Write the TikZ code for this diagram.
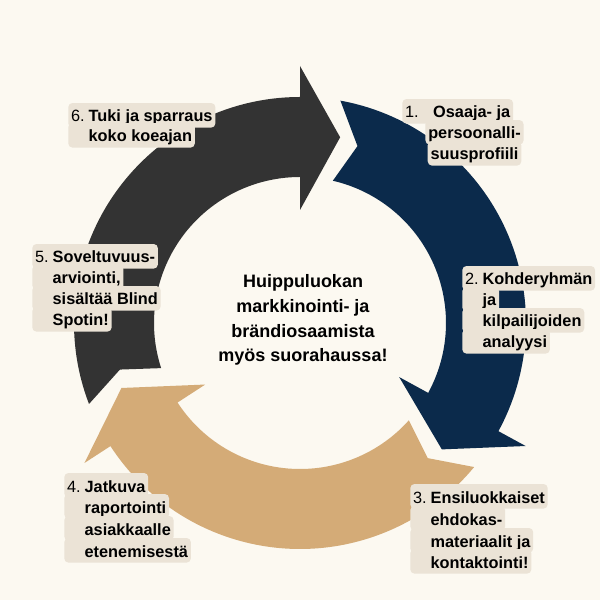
\documentclass[tikz,border=0pt]{standalone}
\usepackage{fontspec}
\setmainfont{Liberation Sans}
\setsansfont{Liberation Sans}
\definecolor{cream}{HTML}{FCF9F1}
\definecolor{navy}{HTML}{0B2A4B}
\definecolor{charcoal}{HTML}{333333}
\definecolor{sand}{HTML}{D4AB77}
\definecolor{boxbeige}{HTML}{EBE3D6}
\newcommand{\stepnum}[1]{\makebox[12.5pt][l]{\mdseries #1}}
\newcommand{\stepgap}{\hspace*{12.5pt}}

\begin{document}
\begin{tikzpicture}[scale=0.025,
  linebox/.style={fill=boxbeige, rounded corners=3pt, inner xsep=2pt, inner ysep=3pt,
    text height=10.5pt, text depth=1pt, anchor=base west,
    font=\fontsize{11.6}{14}\selectfont\bfseries}]

% Background
\fill[cream] (-300,-277) rectangle (300,323);

% Charcoal arrow (left, into the top)
\fill[charcoal] (201:226) arc[start angle=201, end angle=90, radius=226]
  -- (90:257) -- (77.8:190) -- (90:113) -- (90:146)
  arc[start angle=90, end angle=198, radius=146] -- (194.5:186) -- cycle;

% Navy arrow (right side)
\fill[navy] (79.7:226) arc[start angle=79.7, end angle=-28.6, radius=226]
  -- (-28.6:257) -- (-41.7:190) -- (-28.6:113) -- (-28.6:146)
  arc[start angle=-28.6, end angle=77, radius=146] -- (72:186) -- cycle;

% Sand arrow (bottom)
\fill[sand] (-39.6:226) arc[start angle=-39.6, end angle=-147, radius=226]
  -- (-147:257) -- (-160:190) -- (-147:113) -- (-147:146)
  arc[start angle=-147, end angle=-41.8, radius=146] -- (-46.6:186) -- cycle;

% Centre text
\node[align=center, font=\fontsize{12.8}{17.7}\selectfont\bfseries] (centre) at (3,3)
  {Huippuluokan\\markkinointi- ja\\brändiosaamista\\myös suorahaussa!};

% 1. profile
\node[linebox] (osaA) at (102,205) {\makebox[20pt][l]{\mdseries 1.}Osaaja- ja};
\node[linebox, anchor=base] (osaB) at (174.5,184) {persoonalli-};
\node[linebox, anchor=base] (osaC) at (174.5,163) {suusprofiili};

% 2. target group
\node[linebox] (kohA) at (162,38) {\stepnum{2.}Kohderyhmän};
\node[linebox] (kohB) at (162,17) {\stepgap ja};
\node[linebox] (kohC) at (162,-4) {\stepgap kilpailijoiden};
\node[linebox] (kohD) at (162,-25) {\stepgap analyysi};

% 3. candidates
\node[linebox] (ensA) at (110,-180) {\stepnum{3.}Ensiluokkaiset};
\node[linebox] (ensB) at (110,-202) {\stepgap ehdokas-};
\node[linebox] (ensC) at (110,-224) {\stepgap materiaalit ja};
\node[linebox] (ensD) at (110,-245) {\stepgap kontaktointi!};

% 4. reporting
\node[linebox] (jatA) at (-236,-169) {\stepnum{4.}Jatkuva};
\node[linebox] (jatB) at (-236,-190) {\stepgap raportointi};
\node[linebox] (jatC) at (-236,-212) {\stepgap asiakkaalle};
\node[linebox] (jatD) at (-236,-234) {\stepgap etenemisestä};

% 5. assessment
\node[linebox] (sovA) at (-268,60) {\stepnum{5.}Soveltuvuus-};
\node[linebox] (sovB) at (-268,39) {\stepgap arviointi,};
\node[linebox] (sovC) at (-268,18) {\stepgap sisältää Blind};
\node[linebox] (sovD) at (-268,-3) {\stepgap Spotin!};

% 6. support
\node[linebox] (tukA) at (-232,201) {\stepnum{6.}Tuki ja sparraus};
\node[linebox] (tukB) at (-232,181) {\stepgap koko koeajan};

\end{tikzpicture}
\end{document}
